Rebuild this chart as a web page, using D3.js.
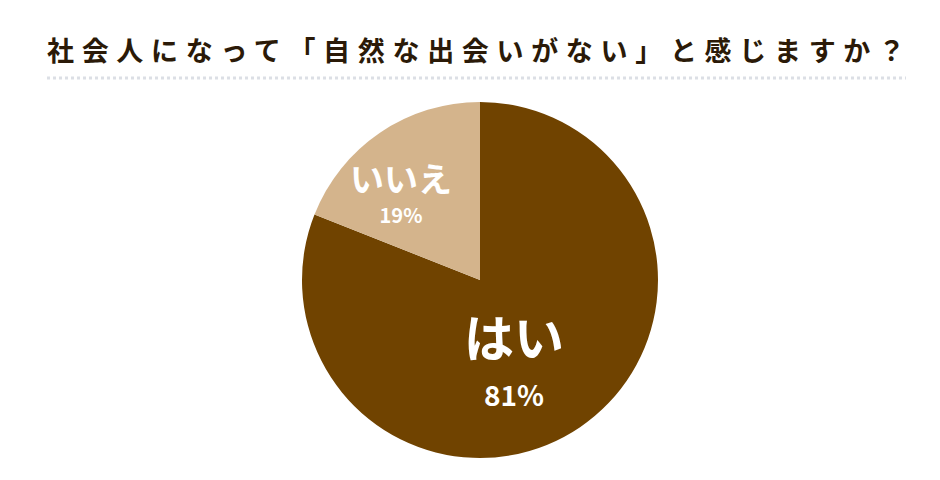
<!DOCTYPE html>
<html><head><meta charset="utf-8">
<script src="https://cdn.jsdelivr.net/npm/d3@7"></script>
<style>body{margin:0;background:#fff}</style>
</head><body>
<svg id="chart" width="940" height="480"></svg>
<script>
const title = "社会人になって「自然な出会いがない」と感じますか？";
const labels = ["はい", "いいえ"];
const values = [81, 19];
const colors = ["#704300", "#d4b48c"];

const svg = d3.select("#chart");
const font = "'Noto Sans CJK JP', 'Noto Sans', sans-serif";

svg.append("text")
    .attr("x", 47).attr("y", 61)
    .attr("font-family", font).attr("font-weight", 700)
    .attr("font-size", 27).attr("fill", "#2b1a08")
    .attr("textLength", 858).attr("lengthAdjust", "spacing")
    .text(title);

svg.append("line")
    .attr("x1", 47).attr("x2", 906).attr("y1", 78).attr("y2", 78)
    .attr("stroke", "#dcdfe5").attr("stroke-width", 3)
    .attr("stroke-dasharray", "3 3");

const cx = 480, cy = 280, r = 178;
const pie = d3.pie().sort(null)(values);
const arc = d3.arc().innerRadius(0).outerRadius(r);
const g = svg.append("g").attr("transform", `translate(${cx},${cy})`);
g.selectAll("path").data(pie).join("path")
    .attr("d", arc).attr("fill", (d, i) => colors[i]);

// label positions as fractions of radius
const labelArc = d3.arc().innerRadius(r * 0.45).outerRadius(r * 0.45);
const big = [50, 34], small = [28, 20];
pie.forEach((d, i) => {
    let [x, y] = labelArc.centroid(d);
    if (i === 0) { x = 34; y = 77; } else { x = -79; y = -88; }
    g.append("text").attr("x", x).attr("y", y)
        .attr("text-anchor", "middle").attr("font-family", font)
        .attr("font-weight", 700).attr("font-size", big[i]).attr("fill", "#fff")
        .text(labels[i]);
    g.append("text").attr("x", x).attr("y", y + (i === 0 ? 49 : 31))
        .attr("text-anchor", "middle").attr("font-family", font)
        .attr("font-weight", 700).attr("font-size", small[i]).attr("fill", "#fff")
        .text(values[i] + "%");
});
</script>
</body></html>
